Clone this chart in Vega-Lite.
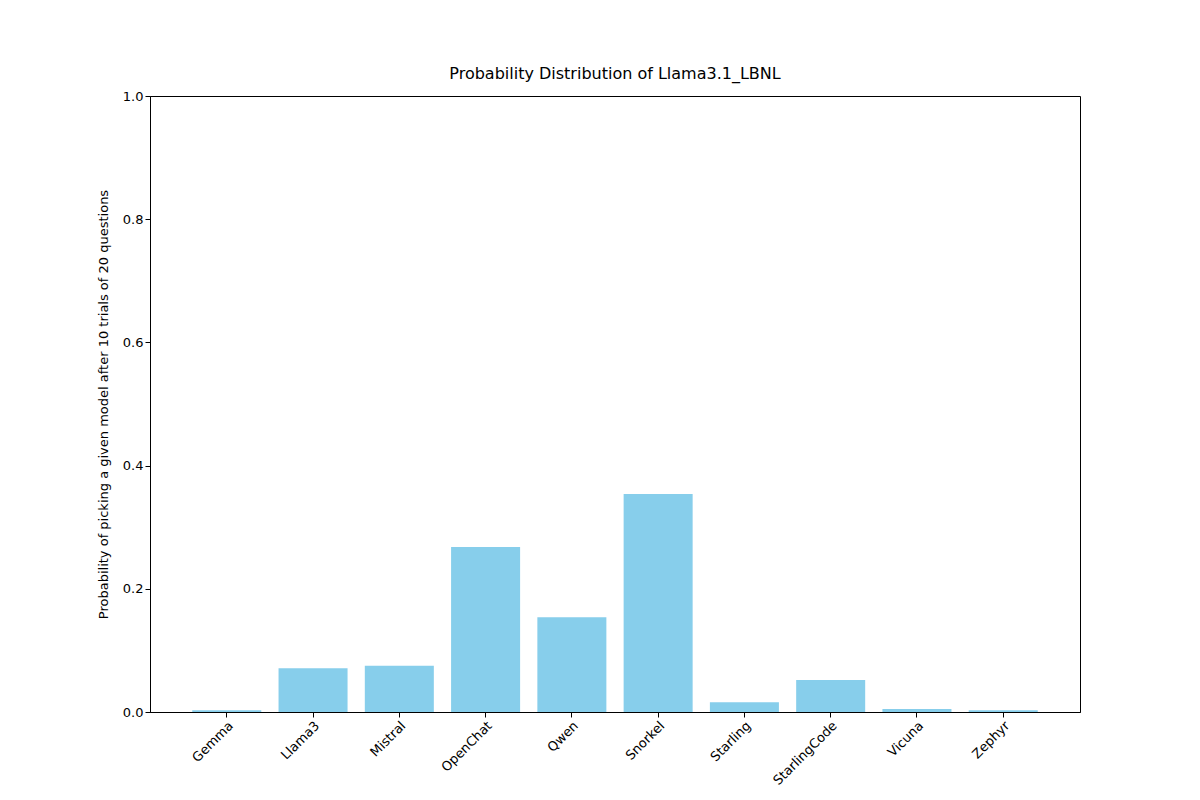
{
  "$schema": "https://vega.github.io/schema/vega-lite/v6.json",
  "width": 930,
  "height": 616,
  "autosize": {"type": "none"},
  "padding": {"left": 150, "top": 96, "right": 120, "bottom": 88},
  "background": "white",
  "config": {
    "font": "DejaVu Sans",
    "view": {"stroke": "black", "strokeWidth": 1},
    "axis": {"labelFontSize": 13, "titleFontSize": 13, "labelColor": "black", "titleColor": "black", "tickColor": "black", "domainColor": "black", "grid": false, "titleFontWeight": "normal", "tickSize": 5}
  },
  "title": {"text": "Probability Distribution of Llama3.1_LBNL", "fontSize": 16, "fontWeight": "normal", "offset": 8},
  "data": {
    "values": [
      {"model": "Gemma", "p": 0.003},
      {"model": "Llama3", "p": 0.071},
      {"model": "Mistral", "p": 0.075},
      {"model": "OpenChat", "p": 0.268},
      {"model": "Qwen", "p": 0.154},
      {"model": "Snorkel", "p": 0.354},
      {"model": "Starling", "p": 0.016},
      {"model": "StarlingCode", "p": 0.052},
      {"model": "Vicuna", "p": 0.005},
      {"model": "Zephyr", "p": 0.003}
    ]
  },
  "mark": {"type": "bar", "color": "#87CEEB"},
  "encoding": {
    "x": {
      "field": "model", "type": "nominal", "sort": null, "title": null,
      "scale": {"paddingInner": 0.2, "paddingOuter": 0.49},
      "axis": {"labelAngle": -45, "labelAlign": "right", "labelBaseline": "top"}
    },
    "y": {
      "field": "p", "type": "quantitative",
      "title": "Probability of picking a given model after 10 trials of 20 questions",
      "scale": {"domain": [0, 1], "nice": false},
      "axis": {"values": [0, 0.2, 0.4, 0.6, 0.8, 1.0], "format": ".1f", "titlePadding": 12}
    }
  }
}
